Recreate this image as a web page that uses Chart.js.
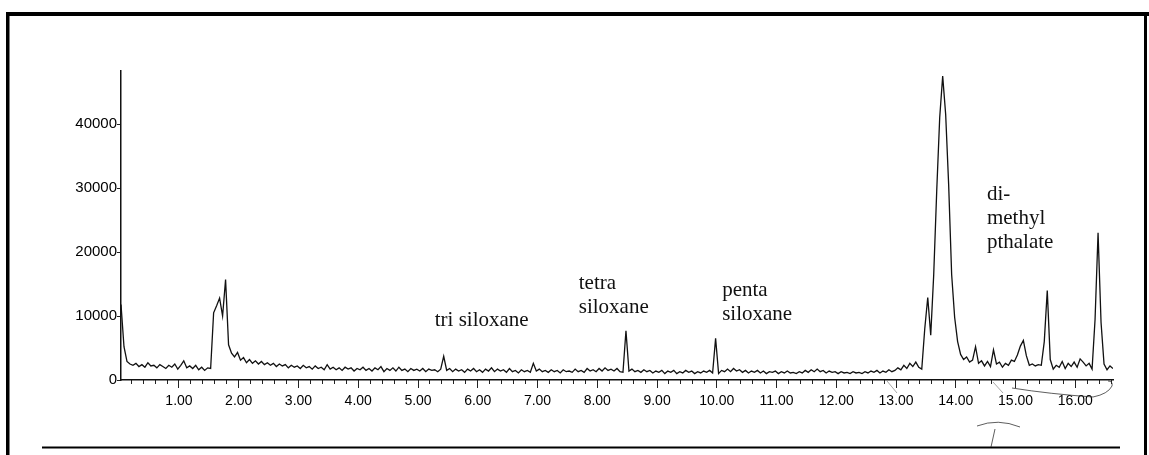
<!DOCTYPE html>
<html>
<head>
<meta charset="utf-8">
<script src="https://cdn.jsdelivr.net/npm/chart.js@4.4.1/dist/chart.umd.min.js"></script>
<style>
  html, body { margin: 0; padding: 0; background: #fff; }
  #wrap { width: 1149px; height: 455px; position: relative; }
</style>
</head>
<body>
<div id="wrap"><canvas id="tic"></canvas></div>
<script>
// Total ion chromatogram, sampled every 0.05 min from 0.03 min
const T_START = 0.03
const T_STEP = 0.05
const abundance = [
  11800, 5200, 2900, 2500, 2300, 2600, 2100, 2400, 2000, 2700,
  2200, 2300, 1900, 2400, 2100, 1800, 2300, 2000, 2500, 1700,
  2300, 3000, 1900, 2200, 1800, 2300, 1600, 2000, 1500, 1900,
  1800, 10500, 11600, 12800, 10000, 15700, 5500, 4200, 3600, 4300,
  3100, 3500, 2700, 3200, 2600, 3000, 2500, 2900, 2400, 2700,
  2300, 2600, 2100, 2500, 2200, 2400, 1900, 2300, 2000, 2200,
  1800, 2300, 1900, 2100, 1700, 2200, 1800, 2000, 1600, 2400,
  1700, 2000, 1600, 1900, 1500, 2000, 1700, 1900, 1400, 1800,
  1600, 2000, 1500, 1800, 1400, 1900, 1600, 2100, 1300, 1800,
  1500, 1900, 1400, 2000, 1500, 1700, 1300, 1800, 1500, 1700,
  1400, 1800, 1300, 1700, 1500, 1600, 1300, 1700, 3700, 1500,
  1800, 1300, 1700, 1400, 1600, 1200, 1700, 1400, 1800, 1300,
  1600, 1200, 1700, 1400, 1900, 1300, 1700, 1400, 1600, 1200,
  1800, 1300, 1500, 1100, 1600, 1300, 1500, 1200, 2600, 1400,
  1700, 1300, 1500, 1200, 1600, 1300, 1500, 1100, 1600, 1300,
  1400, 1200, 1700, 1300, 1500, 1200, 1800, 1400, 1600, 1300,
  1800, 1400, 1900, 1500, 1700, 1400, 1800, 1300, 1200, 7700,
  1400, 1700, 1300, 1500, 1200, 1600, 1300, 1500, 1100, 1400,
  1200, 1500, 1000, 1400, 1200, 1500, 1000, 1300, 1100, 1500,
  1200, 1400, 1000, 1300, 1100, 1400, 1200, 1500, 1100, 6500,
  1000, 1500, 1300, 1700, 1300, 1800, 1400, 1600, 1200, 1500,
  1100, 1400, 1200, 1500, 1100, 1400, 1000, 1300, 1200, 1400,
  1000, 1300, 1100, 1400, 1100, 1200, 1000, 1300, 1100, 1500,
  1200, 1600, 1300, 1700, 1300, 1500, 1100, 1400, 1200, 1300,
  1000, 1300, 1100, 1200, 1000, 1300, 1100, 1200, 1000, 1300,
  1100, 1400, 1200, 1500, 1100, 1400, 1200, 1600, 1300, 1500,
  1900, 1600, 2300, 1800, 2600, 2100, 2800, 2000, 1700, 8000,
  12900, 7000, 16500, 29500, 41000, 47500, 41500, 30500, 16500, 9800,
  6000, 4000, 3200, 3600, 2800, 3100, 5200, 2600, 3000, 2200,
  2900, 2100, 4700, 2500, 2800, 2000, 2600, 2300, 3100, 2900,
  3900, 5300, 6200, 3800, 2300, 2500, 2200, 2400, 2300, 6000,
  14000, 3200, 1700, 2300, 2000, 2900, 1800, 2600, 2100, 2800,
  2000, 3300, 2800, 2200, 2600, 1700, 9500, 23000, 9000, 2500,
  1600, 2200, 1800
]

const yTickValues = [0, 10000, 20000, 30000, 40000]
const xTickValues = [1, 2, 3, 4, 5, 6, 7, 8, 9, 10, 11, 12, 13, 14, 15, 16]
const peakNames = [
  ["tri siloxane"],
  ["tetra", "siloxane"],
  ["penta", "siloxane"],
  ["di-", "methyl", "pthalate"],
]

const X_MIN = 0.03
const X_MAX = 16.63
const Y_MAX = 48300

const points = abundance.map((v, i) => ({ x: T_START + i * T_STEP, y: v }))

// minor ticks every 0.2 min along the time axis
const minorTicks = []
for (let k = 1; k * 0.2 <= X_MAX; k++) minorTicks.push(+(k * 0.2).toFixed(2))

// where each peak name sits, in (min, abundance) of its first baseline
const nameAnchors = [
  { t: 5.28, v: 8440 },
  { t: 7.69, v: 14200 },
  { t: 10.09, v: 13100 },
  { t: 14.52, v: 28100 },
]

const pageFrame = {
  id: "pageFrame",
  afterDraw(chart) {
    const { ctx, scales } = chart
    ctx.save()

    // scanned page borders
    ctx.fillStyle = "#000"
    ctx.fillRect(6, 12, 1143, 4)
    ctx.fillRect(6, 12, 3.5, 443)
    ctx.fillRect(1144, 12, 3, 443)
    ctx.fillRect(42, 446.5, 1078, 2)

    // peak names
    ctx.fillStyle = "#111"
    ctx.font = "21px 'Liberation Serif', 'Times New Roman', serif"
    ctx.textBaseline = "alphabetic"
    ctx.textAlign = "left"
    peakNames.forEach((lines, i) => {
      const a = nameAnchors[i]
      const x = scales.x.getPixelForValue(a.t)
      const y = scales.y.getPixelForValue(a.v)
      lines.forEach((s, j) => ctx.fillText(s, x, y + j * 24))
    })

    // pen marks under the time axis
    ctx.strokeStyle = "rgba(40,40,40,0.75)"
    ctx.lineWidth = 1
    ctx.beginPath()
    ctx.moveTo(1012, 388)
    ctx.quadraticCurveTo(1050, 394, 1093, 397)
    ctx.quadraticCurveTo(1108, 394, 1112, 386)
    ctx.quadraticCurveTo(1113, 381, 1108, 381)
    ctx.stroke()

    ctx.beginPath()
    ctx.moveTo(977, 426)
    ctx.quadraticCurveTo(998, 418, 1020, 427)
    ctx.moveTo(995, 429)
    ctx.lineTo(991, 447)
    ctx.stroke()

    ctx.strokeStyle = "rgba(60,60,60,0.45)"
    ctx.beginPath()
    ctx.moveTo(887, 381)
    ctx.lineTo(897, 393)
    ctx.moveTo(993, 382)
    ctx.lineTo(1003, 393)
    ctx.stroke()

    ctx.restore()
  },
}

new Chart(document.getElementById("tic"), {
  type: "line",
  data: {
    datasets: [{
      data: points,
      borderColor: "#111",
      borderWidth: 1.3,
      pointRadius: 0,
      tension: 0,
      fill: false,
    }],
  },
  options: {
    responsive: true,
    maintainAspectRatio: false,
    animation: false,
    layout: { padding: { left: 0, right: 36, top: 71, bottom: 0 } },
    plugins: {
      legend: { display: false },
      tooltip: { enabled: false },
    },
    scales: {
      x: {
        type: "linear",
        position: "bottom",
        weight: 1,
        min: X_MIN,
        max: X_MAX,
        afterBuildTicks: (axis) => { axis.ticks = xTickValues.map(v => ({ value: v })) },
        afterFit: (axis) => { axis.height = 75 },
        grid: { drawOnChartArea: false, tickLength: 8, color: "#222", lineWidth: 1 },
        border: { color: "#111", width: 1.5 },
        ticks: {
          maxRotation: 0,
          autoSkip: false,
          padding: 5,
          color: "#000",
          font: { family: "'Liberation Sans', Arial, sans-serif", size: 14 },
          callback: (v) => Number(v).toFixed(2),
        },
      },
      xMinor: {
        type: "linear",
        position: "bottom",
        weight: 0,
        min: X_MIN,
        max: X_MAX,
        afterBuildTicks: (axis) => { axis.ticks = minorTicks.map(v => ({ value: v })) },
        afterFit: (axis) => { axis.height = 0 },
        grid: { drawOnChartArea: false, tickLength: 4, color: "#222", lineWidth: 1 },
        border: { display: false },
        ticks: { display: false },
      },
      y: {
        min: 0,
        max: Y_MAX,
        afterBuildTicks: (axis) => { axis.ticks = yTickValues.map(v => ({ value: v })) },
        afterFit: (axis) => { axis.width = 121 },
        grid: { drawOnChartArea: false, tickLength: 4, color: "#222", lineWidth: 1 },
        border: { color: "#111", width: 1.5 },
        ticks: {
          padding: 0,
          color: "#000",
          font: { family: "'Liberation Sans', Arial, sans-serif", size: 15 },
          callback: (v) => String(v),
        },
      },
    },
  },
  plugins: [pageFrame],
})
</script>
</body>
</html>
